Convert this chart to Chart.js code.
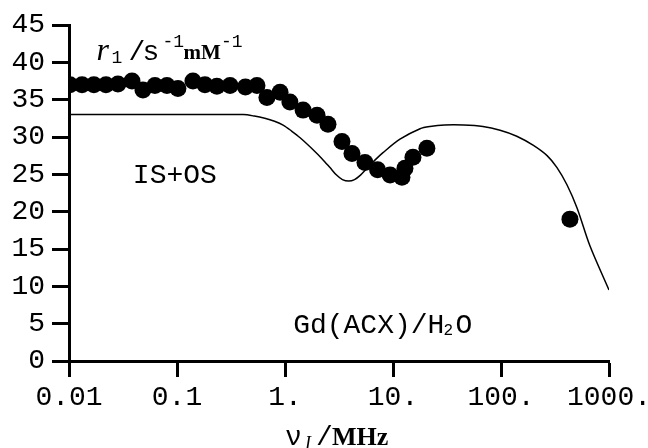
<!DOCTYPE html>
<html>
<head>
<meta charset="utf-8">
<script src="https://cdn.jsdelivr.net/npm/chart.js@4"></script>
<style>
    body { margin: 0; background: #fff; }
    #wrap { width: 648px; height: 448px; }
</style>
</head>
<body>
<div id="wrap"><canvas id="c" width="648" height="448"></canvas></div>
<script>
// measured relaxivity (dots)
const freqPts = [0.0102, 0.0132, 0.017, 0.022, 0.0284, 0.0383, 0.0484, 0.0625, 0.0807, 0.102,
    0.1405, 0.1815, 0.234, 0.31, 0.43, 0.55, 0.68, 0.9, 1.11, 1.47, 1.98, 2.5, 3.37, 4.17,
    5.5, 7.2, 9.4, 12.1, 12.9, 15.3, 20.6, 435];
const r1Pts = [37.0, 37.0, 37.0, 37.0, 37.1, 37.5, 36.3, 36.9, 36.9, 36.5,
    37.5, 37.0, 36.8, 36.9, 36.7, 36.9, 35.3, 36.0, 34.7, 33.6, 32.9, 31.7, 29.4, 27.8,
    26.6, 25.6, 24.9, 24.6, 25.8, 27.3, 28.5, 19.0];

// IS+OS fit curve
const freqFit = [0.01, 0.1, 0.41, 0.52, 0.65, 0.8, 0.96, 1.15, 1.38, 1.82, 2.2, 2.61, 3.0, 3.4,
    3.9, 4.4, 5.0, 5.74, 6.8, 8.08, 11.6, 17.8, 22, 30, 45, 68, 98, 140, 198, 267, 330, 408,
    506, 667, 1000];
const r1Fit = [33.0, 33.0, 33.0, 32.8, 32.5, 32.1, 31.6, 30.8, 29.9, 28.3, 27.1, 25.9, 24.9, 24.3,
    24.1, 24.3, 24.9, 25.8, 26.9, 27.9, 29.7, 31.1, 31.4, 31.6, 31.6, 31.4, 30.9, 30.1, 28.9,
    27.5, 25.9, 23.6, 20.5, 15.4, 9.5];

// axis ticks
const xTicks = [0.01, 0.1, 1, 10, 100, 1000];
const xTickLabels = ["0.01", "0.1", "1.", "10.", "100.", "1000."];

const mono = "'Liberation Mono', 'Courier New', monospace";

// labels written inside the frame
const textPlugin = {
    id: "texts",
    afterDraw(chart) {
        const ctx = chart.ctx;
        const xs = chart.scales.x;
        const ys = chart.scales.y;
        ctx.save();
        ctx.fillStyle = "#000";
        ctx.textBaseline = "alphabetic";
        ctx.textAlign = "left";

        // r1 / s-1 mM-1
        let x = xs.getPixelForValue(0.018);
        let y = ys.getPixelForValue(40.3);
        ctx.font = "italic 32px 'Liberation Serif', serif";
        ctx.fillText("r", x, y);
        x += 15;
        ctx.font = "18px " + mono;
        ctx.fillText("1", x, y + 3);
        x += 21;
        ctx.font = "28px " + mono;
        ctx.fillText("/", x - 4, y);
        x += 13;
        ctx.fillText("s", x - 3, y);
        x += 17;
        ctx.font = "18px " + mono;
        ctx.fillText("-1", x, y - 13);
        x += 21;
        ctx.font = "bold 21px 'Liberation Serif', serif";
        ctx.fillText("mM", x, y - 1);
        x += ctx.measureText("mM").width;
        ctx.font = "18px " + mono;
        ctx.fillText("-1", x, y - 13);

        // IS+OS
        ctx.font = "28px " + mono;
        ctx.fillText("IS+OS", xs.getPixelForValue(0.039), ys.getPixelForValue(23.8));

        // Gd(ACX)/H2O
        x = xs.getPixelForValue(1.19);
        y = ys.getPixelForValue(3.75);
        ctx.fillText("Gd(ACX)/H", x, y);
        x += ctx.measureText("Gd(ACX)/H").width;
        ctx.font = "16px " + mono;
        ctx.fillText("2", x - 1, y + 2);
        x += 11;
        ctx.font = "28px " + mono;
        ctx.fillText("O", x, y);

        // x axis title  v_I / MHz
        x = 285;
        y = 445;
        ctx.font = "28px " + mono;
        ctx.fillText("\u03bd", x, y);
        ctx.font = "italic 18px 'Liberation Serif', serif";
        ctx.fillText("I", 305, y + 4);
        ctx.font = "28px " + mono;
        ctx.fillText("/", 316, y);
        ctx.font = "bold 26px 'Liberation Serif', serif";
        ctx.fillText("MHz", 332, y);
        ctx.restore();
    },
};

const dots = freqPts.map((f, i) => ({ x: f, y: r1Pts[i] }));
const curve = freqFit.map((f, i) => ({ x: f, y: r1Fit[i] }));

const myChart = new Chart(document.getElementById("c"), {
    type: "scatter",
    data: {
        datasets: [{
            label: "measured",
            data: dots,
            showLine: false,
            pointRadius: 8.5,
            pointBackgroundColor: "#000",
            pointBorderWidth: 0,
            order: 0,
        }, {
            label: "IS+OS",
            data: curve,
            showLine: true,
            pointRadius: 0,
            borderColor: "#000",
            borderWidth: 1.5,
            tension: 0.3,
            order: 1,
        }],
    },
    options: {
        responsive: false,
        animation: false,
        events: [],
        layout: {
            padding: { top: 25, right: 39, left: 0, bottom: 0 },
        },
        plugins: {
            legend: { display: false },
            tooltip: { enabled: false },
        },
        scales: {
            x: {
                type: "logarithmic",
                min: 0.01,
                max: 1000,
                border: { color: "#000", width: 3 },
                grid: {
                    drawOnChartArea: false,
                    drawTicks: true,
                    tickLength: 16,
                    tickWidth: 3,
                    tickColor: "#000",
                },
                afterBuildTicks: (axis) => {
                    axis.ticks = xTicks.map((v) => ({ value: v }));
                },
                afterFit: (scale) => {
                    scale.height = 87;
                    scale.paddingRight = 39;
                    scale.paddingLeft = 0;
                },
                ticks: {
                    autoSkip: false,
                    maxRotation: 0,
                    padding: 4,
                    color: "#000",
                    font: { family: mono, size: 28 },
                    callback: (value) => {
                        const i = xTicks.indexOf(value);
                        return i >= 0 ? xTickLabels[i] : "";
                    },
                },
            },
            y: {
                min: 0,
                max: 45,
                border: { color: "#000", width: 3 },
                grid: {
                    drawOnChartArea: false,
                    drawTicks: true,
                    tickLength: 17,
                    tickWidth: 3,
                    tickColor: "#000",
                },
                afterFit: (scale) => {
                    scale.width = 69;
                },
                ticks: {
                    stepSize: 5,
                    padding: 7,
                    color: "#000",
                    font: { family: mono, size: 28 },
                },
            },
        },
    },
    plugins: [textPlugin],
});
</script>
</body>
</html>
